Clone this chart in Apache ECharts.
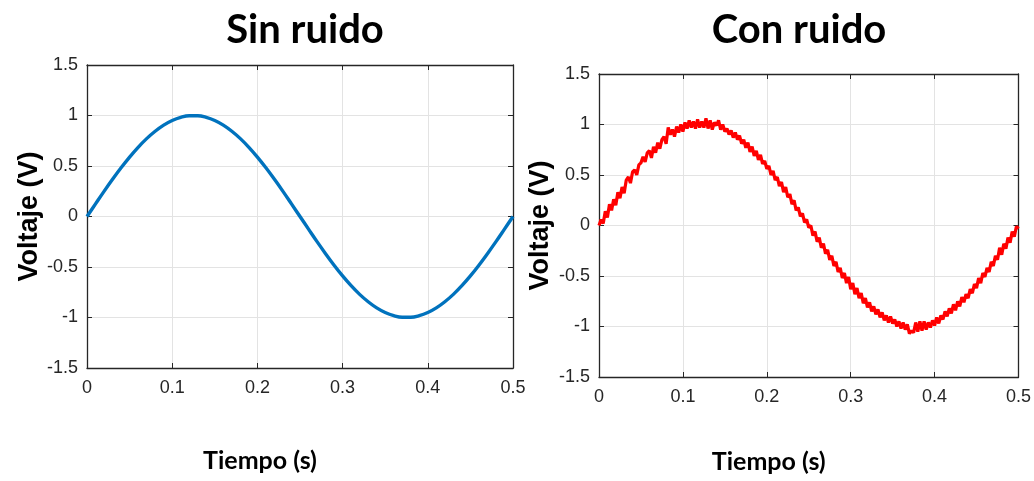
<!DOCTYPE html>
<html>
<head>
<meta charset="utf-8">
<title>Sin ruido / Con ruido</title>
<script src="https://cdn.jsdelivr.net/npm/echarts@6/dist/echarts.min.js"></script>
<style>
  html, body { margin: 0; padding: 0; background: #ffffff; }
  #chart { width: 1034px; height: 481px; }
</style>
</head>
<body>
<div id="chart"></div>
<script>
// Panel titles and axis names
const panelTitles = ['Sin ruido', 'Con ruido'];
const xName = 'Tiempo (s)';
const yName = 'Voltaje (V)';

// Tick labels
const xTickLabels = ['0', '0.1', '0.2', '0.3', '0.4', '0.5'];
const yTickLabels = ['-1.5', '-1', '-0.5', '0', '0.5', '1', '1.5'];

// Clean signal, one sample every 10 ms from 0 to 0.5 s
const cleanStep = 0.01;
const cleanVolts = [
  0.000, 0.125, 0.249, 0.368, 0.482, 0.588, 0.685, 0.771, 0.844, 0.905,
  0.951, 0.982, 0.998, 0.998, 0.982, 0.951, 0.905, 0.844, 0.771, 0.685,
  0.588, 0.482, 0.368, 0.249, 0.125, 0.000, -0.125, -0.249, -0.368, -0.482,
  -0.588, -0.685, -0.771, -0.844, -0.905, -0.951, -0.982, -0.998, -0.998, -0.982,
  -0.951, -0.905, -0.844, -0.771, -0.685, -0.588, -0.482, -0.368, -0.249, -0.125,
  0.000
];

// Noisy signal, one sample every 2.5 ms from 0 to 0.5 s
const noisyStep = 0.0025;
const noisyVolts = [
  0.00, 0.06, 0.02, 0.14, 0.08, 0.21, 0.15, 0.26, 0.20, 0.33,
  0.27, 0.38, 0.32, 0.45, 0.48, 0.42, 0.53, 0.55, 0.50, 0.60,
  0.62, 0.68, 0.63, 0.72, 0.74, 0.67, 0.78, 0.72, 0.82, 0.76,
  0.85, 0.88, 0.81, 0.97, 0.90, 0.95, 0.88, 0.98, 0.92, 1.00,
  0.93, 1.02, 0.96, 1.04, 0.97, 1.03, 0.96, 1.05, 0.97, 1.03,
  0.97, 1.06, 0.96, 1.04, 0.95, 1.02, 0.99, 1.04, 0.95, 1.00,
  0.93, 0.96, 0.90, 0.94, 0.87, 0.92, 0.85, 0.89, 0.81, 0.85,
  0.77, 0.82, 0.73, 0.78, 0.69, 0.74, 0.65, 0.70, 0.61, 0.64,
  0.56, 0.59, 0.50, 0.54, 0.45, 0.48, 0.39, 0.43, 0.33, 0.38,
  0.28, 0.31, 0.21, 0.25, 0.15, 0.18, 0.09, 0.12, 0.03, 0.06,
  -0.02, 0.00, -0.10, -0.06, -0.16, -0.12, -0.22, -0.18, -0.28, -0.24,
  -0.34, -0.30, -0.40, -0.36, -0.46, -0.42, -0.52, -0.47, -0.57, -0.51,
  -0.63, -0.57, -0.68, -0.62, -0.72, -0.67, -0.77, -0.72, -0.81, -0.76,
  -0.85, -0.80, -0.88, -0.83, -0.91, -0.86, -0.94, -0.89, -0.96, -0.90,
  -0.97, -0.93, -1.00, -0.95, -1.02, -0.96, -1.03, -0.98, -1.07, -1.04,
  -1.06, -0.96, -1.05, -0.95, -1.04, -0.95, -1.03, -0.96, -1.01, -0.94,
  -0.99, -0.91, -0.97, -0.89, -0.93, -0.85, -0.90, -0.82, -0.87, -0.78,
  -0.84, -0.75, -0.80, -0.71, -0.76, -0.68, -0.72, -0.63, -0.67, -0.58,
  -0.62, -0.52, -0.57, -0.47, -0.51, -0.42, -0.46, -0.36, -0.40, -0.30,
  -0.34, -0.22, -0.29, -0.18, -0.23, -0.12, -0.17, -0.06, -0.11, -0.01,
  -0.03
];

function toPairs(values, step) {
  return values.map((v, i) => [+(i * step).toFixed(4), v]);
}

const AXIS_COLOR = '#262626';
const GRID_COLOR = '#e3e3e3';
const TICK_FONT = { fontFamily: 'Liberation Sans, Arial, sans-serif', fontSize: 18, color: '#262626' };

function labelFor(list, min, step) {
  return function (value) {
    const idx = Math.round((value - min) / step);
    return list[idx] !== undefined ? list[idx] : '';
  };
}

const grids = [
  { left: 87, top: 65, width: 426, height: 303 },
  { left: 599, top: 74, width: 421, height: 303 }
];

const xAxes = [];
const yAxes = [];
grids.forEach((g, gi) => {
  // bottom axis with labels
  xAxes.push({
    gridIndex: gi, type: 'value', position: 'bottom', min: 0, max: 0.5, interval: 0.1,
    name: xName, nameLocation: 'middle', nameGap: gi === 0 ? 80 : 72,
    nameTextStyle: { fontFamily: 'Lato, sans-serif', fontWeight: 'bold', fontSize: 25, color: '#000', padding: [0, 80, 0, 0] },
    axisLine: { show: true, onZero: false, lineStyle: { color: AXIS_COLOR, width: 1.3 } },
    axisTick: { show: true, inside: true, length: 5, lineStyle: { color: AXIS_COLOR } },
    axisLabel: Object.assign({ margin: 11, formatter: labelFor(xTickLabels, 0, 0.1) }, TICK_FONT),
    splitLine: { show: true, lineStyle: { color: GRID_COLOR, width: 1 } }
  });
  // top edge of the box
  xAxes.push({
    gridIndex: gi, type: 'value', position: 'top', min: 0, max: 0.5, interval: 0.1,
    axisLine: { show: true, onZero: false, lineStyle: { color: AXIS_COLOR, width: 1.3 } },
    axisTick: { show: true, inside: true, length: 5, lineStyle: { color: AXIS_COLOR } },
    axisLabel: { show: false }, splitLine: { show: false }
  });
  // left axis with labels
  yAxes.push({
    gridIndex: gi, type: 'value', position: 'left', min: -1.5, max: 1.5, interval: 0.5,
    name: yName, nameLocation: 'middle', nameGap: gi === 0 ? 43 : 45, nameRotate: 90,
    nameTextStyle: { fontFamily: 'Liberation Sans, Arial, sans-serif', fontWeight: 'bold', fontSize: 27, color: '#000' },
    axisLine: { show: true, onZero: false, lineStyle: { color: AXIS_COLOR, width: 1.3 } },
    axisTick: { show: true, inside: true, length: 5, lineStyle: { color: AXIS_COLOR } },
    axisLabel: Object.assign({ margin: 9, formatter: labelFor(yTickLabels, -1.5, 0.5) }, TICK_FONT),
    splitLine: { show: true, lineStyle: { color: GRID_COLOR, width: 1 } }
  });
  // right edge of the box
  yAxes.push({
    gridIndex: gi, type: 'value', position: 'right', min: -1.5, max: 1.5, interval: 0.5,
    axisLine: { show: true, onZero: false, lineStyle: { color: AXIS_COLOR, width: 1.3 } },
    axisTick: { show: true, inside: true, length: 5, lineStyle: { color: AXIS_COLOR } },
    axisLabel: { show: false }, splitLine: { show: false }
  });
});

const chart = echarts.init(document.getElementById('chart'), null, { renderer: 'canvas' });
chart.setOption({
  animation: false,
  backgroundColor: '#ffffff',
  title: [
    { text: panelTitles[0], left: 300, top: 5, textAlign: 'center',
      textStyle: { fontFamily: 'Lato, sans-serif', fontWeight: 'bold', fontSize: 40, color: '#000' } },
    { text: panelTitles[1], left: 794, top: 5, textAlign: 'center',
      textStyle: { fontFamily: 'Lato, sans-serif', fontWeight: 'bold', fontSize: 40, color: '#000' } }
  ],
  grid: grids,
  xAxis: xAxes,
  yAxis: yAxes,
  series: [
    {
      type: 'line', xAxisIndex: 0, yAxisIndex: 0,
      data: toPairs(cleanVolts, cleanStep),
      smooth: 0.4, showSymbol: false,
      lineStyle: { color: '#0072BD', width: 3.4 }
    },
    {
      type: 'line', xAxisIndex: 2, yAxisIndex: 2,
      data: toPairs(noisyVolts, noisyStep),
      showSymbol: false,
      lineStyle: { color: '#ff0000', width: 3.2 }
    }
  ]
});
</script>
</body>
</html>
